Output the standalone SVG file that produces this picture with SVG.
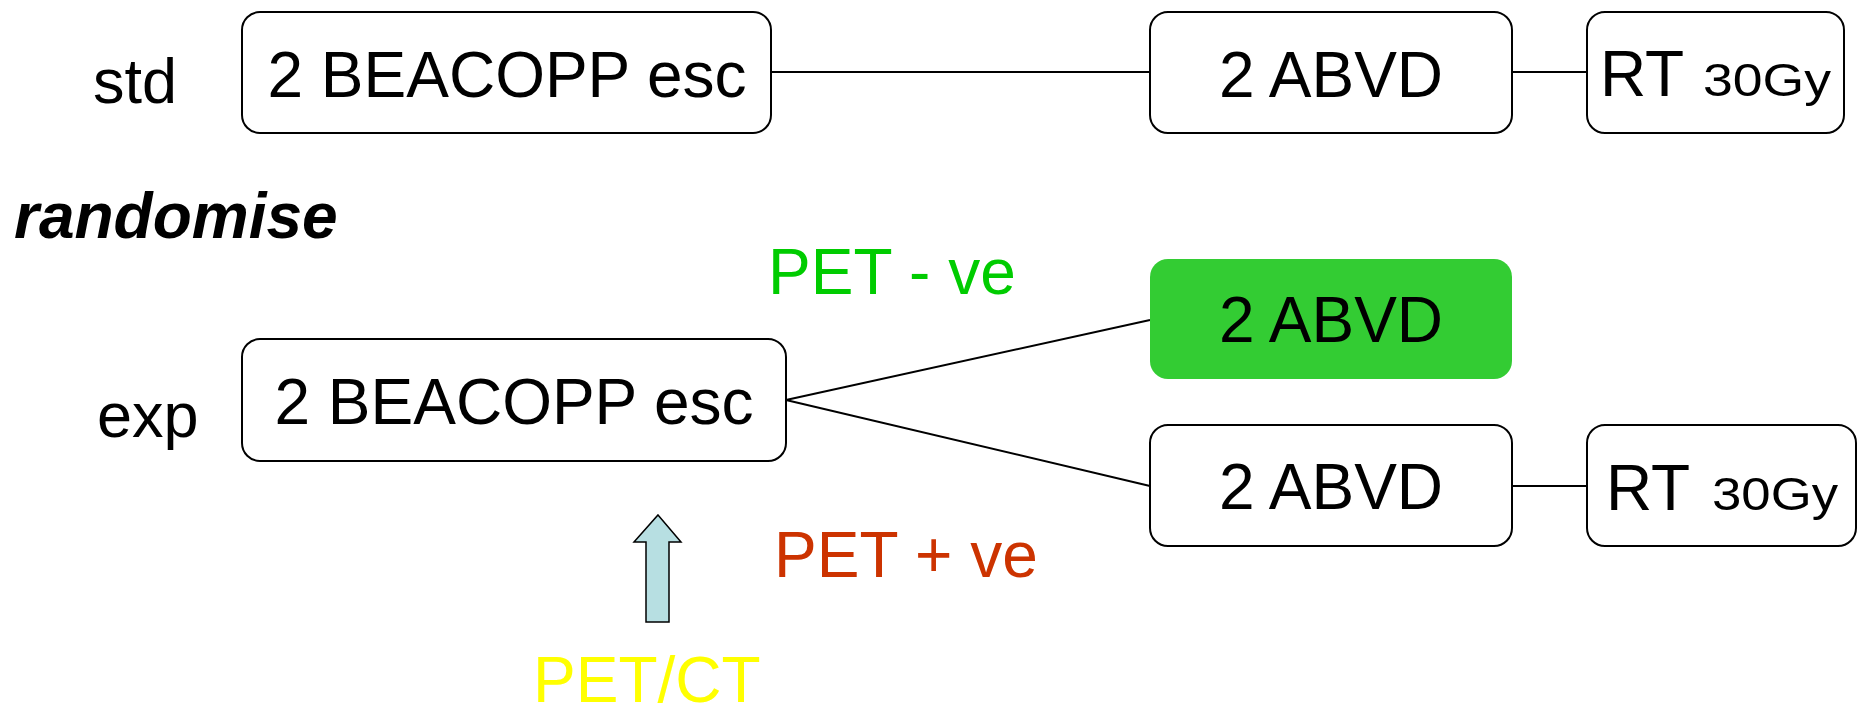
<svg xmlns="http://www.w3.org/2000/svg" width="1858" height="714" viewBox="0 0 1858 714">
<style>
.box{fill:#fff;stroke:#000;stroke-width:2}
.t{font-family:"Liberation Sans",Arial,sans-serif;font-size:64px;fill:#000}
.s{font-family:"Liberation Sans",Arial,sans-serif;font-size:46px;fill:#000}
.c{text-anchor:middle}
.lbl{font-family:"Liberation Sans",Arial,sans-serif;font-size:63px}
.pet{font-family:"Liberation Sans",Arial,sans-serif;font-size:64px}
.conn line{stroke:#000;stroke-width:2}
</style>
<rect width="1858" height="714" fill="#fff"/>
<text class="lbl" x="93" y="103" fill="#000">std</text>
<text class="lbl" x="97" y="437" fill="#000">exp</text>
<text x="14" y="238" font-family="Liberation Sans,Arial,sans-serif" font-size="64" font-weight="bold" font-style="italic" fill="#000">randomise</text>
<g id="connectors" class="conn">
<line x1="771" y1="72" x2="1150" y2="72"/>
<line x1="1512" y1="72" x2="1587" y2="72"/>
<line x1="786" y1="400" x2="1150" y2="320"/>
<line x1="786" y1="400" x2="1150" y2="486"/>
<line x1="1512" y1="486" x2="1587" y2="486"/>
</g>
<g id="std-beacopp"><rect class="box" x="242" y="12" width="529" height="121" rx="18"/><text class="t c" x="507" y="97">2 BEACOPP esc</text></g>
<g id="std-abvd"><rect class="box" x="1150" y="12" width="362" height="121" rx="18"/><text class="t c" x="1331" y="97">2 ABVD</text></g>
<g id="std-rt"><rect class="box" x="1587" y="12" width="257" height="121" rx="18"/><text class="t" x="1600" y="96">RT</text><text class="s" x="1703" y="96" textLength="128" lengthAdjust="spacingAndGlyphs">30Gy</text></g>
<g id="exp-beacopp"><rect class="box" x="242" y="339" width="544" height="122" rx="18"/><text class="t c" x="514" y="424">2 BEACOPP esc</text></g>
<g id="exp-abvd-neg"><rect x="1150" y="259" width="362" height="120" rx="18" fill="#33CC33"/><text class="t c" x="1331" y="342">2 ABVD</text></g>
<g id="exp-abvd-pos"><rect class="box" x="1150" y="425" width="362" height="121" rx="18"/><text class="t c" x="1331" y="509">2 ABVD</text></g>
<g id="exp-rt"><rect class="box" x="1587" y="425" width="269" height="121" rx="18"/><text class="t" x="1606" y="510">RT</text><text class="s" x="1712" y="510" textLength="126" lengthAdjust="spacingAndGlyphs">30Gy</text></g>
<g id="pet-arrow"><polygon points="658,515 681,542 669,542 669,622 646,622 646,542 634,542" fill="#B7DFE2" stroke="#000" stroke-width="1.5"/></g>
<text class="pet" x="768" y="294" fill="#00CC00">PET - ve</text>
<text class="pet" x="774" y="577" fill="#CC3300">PET + ve</text>
<text class="pet" x="533" y="702" font-size="63" fill="#FFFF00">PET/CT</text>
</svg>
